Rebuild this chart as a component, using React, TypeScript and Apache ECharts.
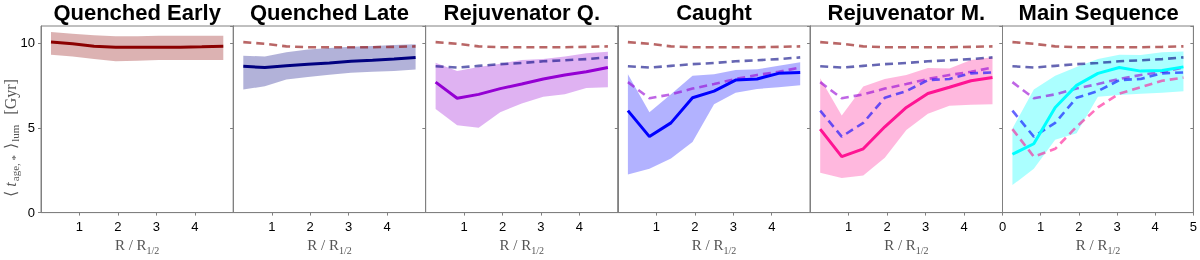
import React, { useEffect, useRef } from "react";
import * as echarts from "echarts";

const panelNames = ["Quenched Early", "Quenched Late", "Rejuvenator Q.", "Caught", "Rejuvenator M.", "Main Sequence"];
const colors = ["#8b0000", "#000080", "#9400d3", "#0000ff", "#ff1493", "#00ffff"];

const radii = [0.26, 0.82, 1.38, 1.94, 2.5, 3.06, 3.62, 4.18, 4.74];
const xTicks = [0, 1, 2, 3, 4, 5];
const yTicks = [0, 5, 10];

const qeMean = [10.05, 9.95, 9.8, 9.75, 9.75, 9.75, 9.75, 9.77, 9.8];
const qeUpper = [10.65, 10.55, 10.45, 10.4, 10.4, 10.42, 10.42, 10.42, 10.42];
const qeLower = [9.3, 9.2, 9.05, 8.92, 8.95, 9.0, 9.0, 9.0, 9.0];

const qlMean = [8.63, 8.55, 8.65, 8.75, 8.82, 8.92, 8.98, 9.05, 9.15];
const qlUpper = [9.25, 9.2, 9.45, 9.62, 9.7, 9.78, 9.82, 9.88, 9.92];
const qlLower = [7.25, 7.45, 7.85, 8.0, 8.12, 8.25, 8.3, 8.35, 8.43];

const rqMean = [7.69, 6.74, 6.97, 7.31, 7.58, 7.88, 8.11, 8.3, 8.55];
const rqUpper = [8.84, 8.34, 8.59, 8.78, 9.0, 9.06, 9.2, 9.39, 9.48];
const rqLower = [6.1, 5.15, 5.0, 5.92, 6.43, 6.83, 6.97, 7.35, 7.39];

const cMean = [6.01, 4.48, 5.29, 6.77, 7.16, 7.81, 7.88, 8.21, 8.26];
const cUpper = [8.15, 5.92, 6.97, 8.07, 8.15, 8.4, 8.45, 8.65, 8.87];
const cLower = [2.25, 2.58, 3.19, 4.16, 6.39, 7.06, 7.29, 7.39, 7.5];

const rmMean = [4.92, 3.3, 3.76, 5.06, 6.2, 7.02, 7.39, 7.77, 7.96];
const rmUpper = [7.92, 5.73, 7.44, 7.88, 8.11, 8.53, 8.49, 9.0, 9.16];
const rmLower = [2.35, 2.04, 2.19, 3.24, 4.87, 5.82, 6.3, 6.36, 6.39];

const msMean = [3.44, 4.06, 6.2, 7.5, 8.21, 8.55, 8.34, 8.38, 8.59];
const msUpper = [4.96, 7.25, 8.07, 8.59, 9.06, 9.31, 9.29, 9.45, 9.5];
const msLower = [1.62, 2.58, 4.29, 4.68, 6.83, 6.93, 7.0, 7.06, 7.16];

const means = [qeMean, qlMean, rqMean, cMean, rmMean, msMean];
const uppers = [qeUpper, qlUpper, rqUpper, cUpper, rmUpper, msUpper];
const lowers = [qeLower, qlLower, rqLower, cLower, rmLower, msLower];

const SANS = "'Liberation Sans', Arial, Helvetica, sans-serif";
const SERIF = "'Liberation Serif', 'DejaVu Serif', serif";
const AXIS = "#808080";

export default function App() {
  const ref = useRef<HTMLDivElement>(null);
  useEffect(() => {
    const chart = echarts.init(ref.current!, null, { renderer: "svg" });
    const L0 = 41;
    const PW = 192.3;
    const TOP = 26;
    const PH = 192.3;
    const grids: any[] = [];
    const xAxes: any[] = [];
    const yAxes: any[] = [];
    const series: any[] = [];
    const graphics: any[] = [];
    const pair = (arr: number[]) => arr.map((v, k) => [radii[k], v]);

    panelNames.forEach((name, i) => {
      const left = L0 + i * PW;
      grids.push({ left, top: TOP, width: PW, height: PH, show: true, borderColor: AXIS, borderWidth: 1, backgroundColor: "transparent" });
      xAxes.push({
        type: "value", gridIndex: i, min: xTicks[0], max: xTicks[xTicks.length - 1], interval: 1,
        axisLine: { show: true, lineStyle: { color: AXIS } },
        axisTick: { show: true, inside: false, length: 3, lineStyle: { color: AXIS } },
        axisLabel: { show: true, color: "#000", fontSize: 13, fontFamily: SANS, margin: 7, showMinLabel: i === 5, showMaxLabel: i === 5 },
        splitLine: { show: false },
        name: "{a|R / R}{s|1/2}", nameLocation: "middle", nameGap: 21,
        nameTextStyle: {
          rich: {
            a: { fontFamily: SERIF, fontSize: 15, color: "#555", lineHeight: 18 },
            s: { fontFamily: SERIF, fontSize: 10, color: "#555", lineHeight: 18, verticalAlign: "bottom", padding: [0, 0, -1, 0] },
          },
        },
      });
      yAxes.push({
        type: "value", gridIndex: i, min: yTicks[0], max: 11, interval: 5, position: "left",
        axisLine: { show: true, lineStyle: { color: AXIS } },
        axisTick: { show: true, inside: false, length: 3, lineStyle: { color: AXIS } },
        axisLabel: { show: i === 0, color: "#000", fontSize: 13, fontFamily: SANS, margin: 6, showMaxLabel: false },
        splitLine: { show: false },
      });
      yAxes.push({
        type: "value", gridIndex: i, min: yTicks[0], max: 11, interval: 5, position: "right",
        axisLine: { show: true, lineStyle: { color: AXIS } },
        axisTick: { show: true, inside: true, length: 3, lineStyle: { color: AXIS } },
        axisLabel: { show: false },
        splitLine: { show: false },
      });
      const up = uppers[i];
      const lo = lowers[i];
      const col = colors[i];
      series.push({
        type: "custom", xAxisIndex: i, yAxisIndex: 2 * i, silent: true, z: 1,
        data: [[radii[0], lo[0]]],
        renderItem: (_p: any, api: any) => {
          const pts: number[][] = [];
          radii.forEach((x, k) => pts.push(api.coord([x, up[k]])));
          for (let k = radii.length - 1; k >= 0; k--) pts.push(api.coord([radii[k], lo[k]]));
          return { type: "polygon", shape: { points: pts }, style: { fill: col, opacity: i === 5 ? 0.33 : 0.3 } };
        },
      });
      for (let j = 0; j < i; j++) {
        series.push({
          type: "line", xAxisIndex: i, yAxisIndex: 2 * i, data: pair(means[j]),
          symbol: "none", z: 2,
          lineStyle: { color: colors[j], width: 2.6, type: [8, 5], opacity: 0.6 },
        });
      }
      series.push({
        type: "line", xAxisIndex: i, yAxisIndex: 2 * i, data: pair(means[i]),
        symbol: "none", z: 3,
        lineStyle: { color: colors[i], width: 3 },
      });
      graphics.push({
        type: "text", x: left + PW / 2, y: 12,
        style: { text: name, align: "center", verticalAlign: "middle", font: `bold 22px ${SANS}`, fill: "#000" },
      });
    });

    graphics.push({
      type: "text", x: 10, y: 138, rotation: Math.PI / 2,
      style: {
        text: "{a|⟨ }{i|t}{s|age, *}{a| ⟩}{s|lum}{a|  [Gyr]}",
        align: "center", verticalAlign: "middle",
        rich: {
          a: { fontFamily: SERIF, fontSize: 16, fill: "#555", lineHeight: 18 },
          i: { fontFamily: SERIF, fontSize: 16, fontStyle: "italic", fill: "#555", lineHeight: 18 },
          s: { fontFamily: SERIF, fontSize: 11, fill: "#555", lineHeight: 18, verticalAlign: "bottom", padding: [0, 2, -1, 1] },
        },
      },
    });

    chart.setOption({
      animation: false,
      grid: grids,
      xAxis: xAxes,
      yAxis: yAxes,
      series,
      graphic: graphics,
    });
    return () => chart.dispose();
  }, []);
  return <div ref={ref} style={{ position: "fixed", left: 0, top: 0, width: 1200, height: 260 }} />;
}
